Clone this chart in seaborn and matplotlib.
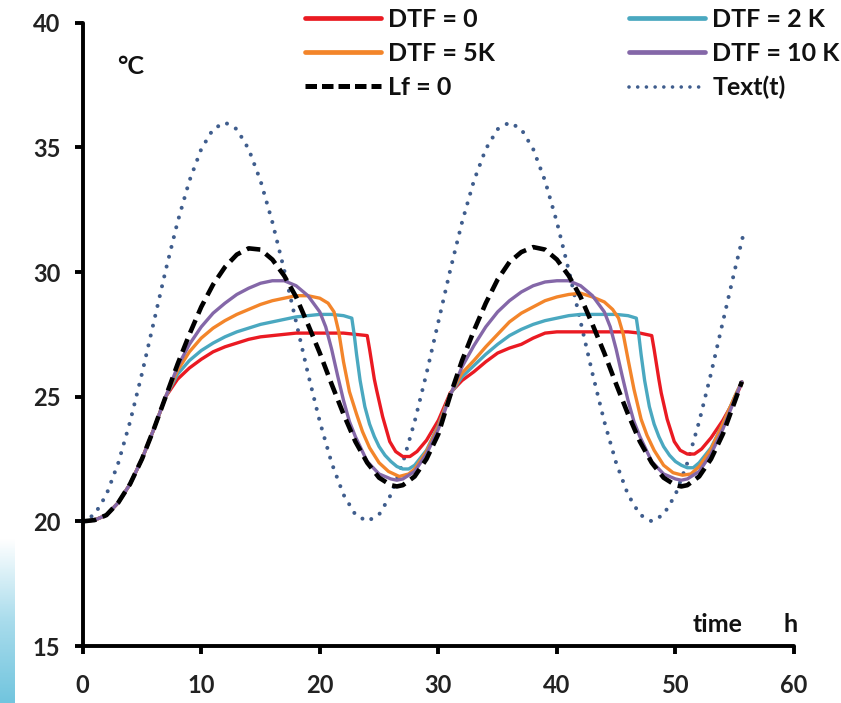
import numpy as np
import pandas as pd
import matplotlib
matplotlib.use("Agg")
import matplotlib.pyplot as plt
import seaborn as sns
from matplotlib.lines import Line2D
from matplotlib.colors import LinearSegmentedColormap

# ---------------- data ----------------
t_text = [0, 1, 2, 3, 4, 5, 6, 7, 8, 9, 10, 11, 12, 13, 14, 15, 16, 17, 18, 19, 20,
          21, 22, 23, 24, 25, 26, 27, 28, 29, 30, 31, 32, 33, 34, 35, 36, 37, 38, 39,
          40, 41, 42, 43, 44, 45, 46, 47, 48, 49, 50, 51, 52, 53, 54, 55, 55.7]
T_text = [20.0, 20.27, 21.07, 22.34, 24.0, 25.93, 28.0, 30.07, 32.0, 33.66, 34.93,
          35.73, 36.0, 35.73, 34.93, 33.66, 32.0, 30.07, 28.0, 25.93, 24.0, 22.34,
          21.07, 20.27, 20.0, 20.27, 21.07, 22.34, 24.0, 25.93, 28.0, 30.07, 32.0,
          33.66, 34.93, 35.73, 36.0, 35.73, 34.93, 33.66, 32.0, 30.07, 28.0, 25.93,
          24.0, 22.34, 21.07, 20.27, 20.0, 20.27, 21.07, 22.34, 24.0, 25.93, 28.0,
          30.07, 31.45]

t_lf0 = [0, 1, 2, 3, 4, 5, 6, 7, 8, 9, 10, 11, 12, 13, 14, 15, 16, 17, 18, 19, 20,
         21, 22, 23, 24, 25, 26, 26.5, 27, 28, 29, 30, 31, 32, 33, 34, 35, 36, 37, 38,
         39, 40, 41, 42, 43, 44, 45, 46, 47, 48, 49, 50, 50.5, 51, 52, 53, 54, 55, 55.6]
T_lf0 = [20.0, 20.05, 20.25, 20.75, 21.5, 22.5, 23.7, 25.0, 26.3, 27.5, 28.6, 29.5,
         30.2, 30.7, 30.95, 30.9, 30.5, 29.85, 29.0, 27.9, 26.75, 25.5, 24.3, 23.2,
         22.35, 21.75, 21.45, 21.4, 21.45, 21.8, 22.5, 23.5, 25.05, 26.45, 27.65,
         28.75, 29.7, 30.4, 30.8, 31.0, 30.9, 30.5, 29.85, 29.0, 27.9, 26.75, 25.5,
         24.3, 23.2, 22.35, 21.75, 21.45, 21.4, 21.45, 21.8, 22.5, 23.5, 24.8, 25.6]

t_dtf0 = [0, 1, 2, 3, 4, 5, 6, 7, 8, 9, 10, 11, 12, 13, 14, 15, 16, 17, 18, 19, 20,
          21, 22, 23, 24.0, 24.2, 24.4, 24.6, 24.8, 25.3, 25.9, 26.4, 27.0, 27.6, 28.2,
          29, 30, 31, 32, 33, 34, 35, 36, 37, 38, 39, 40, 41, 42, 43, 44, 45, 46, 47,
          48.0, 48.2, 48.4, 48.6, 48.8, 49.3, 49.9, 50.4, 51.0, 51.6, 52.2, 53, 54, 55,
          55.6]
T_dtf0 = [20.0, 20.05, 20.25, 20.75, 21.5, 22.5, 23.7, 25.0, 25.7, 26.15, 26.5, 26.8,
          27.0, 27.15, 27.3, 27.4, 27.45, 27.5, 27.55, 27.55, 27.55, 27.55, 27.55,
          27.5, 27.45, 26.9, 26.3, 25.7, 25.25, 24.2, 23.2, 22.8, 22.6, 22.6, 22.8,
          23.25, 24.05, 25.15, 25.65, 26.0, 26.4, 26.75, 26.95, 27.1, 27.35, 27.55,
          27.6, 27.6, 27.6, 27.6, 27.6, 27.6, 27.6, 27.55, 27.45, 26.9, 26.3, 25.7,
          25.15, 24.1, 23.2, 22.85, 22.7, 22.7, 22.9, 23.35, 24.05, 24.9, 25.55]

t_dtf2 = [0, 1, 2, 3, 4, 5, 6, 7, 8, 9, 10, 11, 12, 13, 14, 15, 16, 17, 18, 19, 20,
          21, 22, 22.7, 22.9, 23.1, 23.4, 23.8, 24.2, 24.6, 25.0, 25.5, 26.0, 26.5,
          27.0, 27.5, 28, 29, 30, 31, 32, 33, 34, 35, 36, 37, 38, 39, 40, 41, 42, 43,
          44, 45, 46, 46.7, 46.9, 47.1, 47.4, 47.8, 48.2, 48.6, 49.0, 49.5, 50.0, 50.5,
          51.0, 51.5, 52, 53, 54, 55, 55.6]
T_dtf2 = [20.0, 20.05, 20.25, 20.75, 21.5, 22.5, 23.7, 25.0, 25.9, 26.45, 26.85,
          27.15, 27.4, 27.6, 27.75, 27.9, 28.0, 28.1, 28.2, 28.25, 28.3, 28.3, 28.25,
          28.15, 27.5, 26.7, 25.65, 24.6, 23.9, 23.4, 23.0, 22.65, 22.4, 22.2, 22.1,
          22.1, 22.25, 22.85, 23.85, 25.1, 25.8, 26.25, 26.7, 27.1, 27.45, 27.7, 27.9,
          28.05, 28.15, 28.25, 28.3, 28.3, 28.3, 28.3, 28.25, 28.15, 27.5, 26.7,
          25.65, 24.6, 23.9, 23.4, 23.0, 22.65, 22.4, 22.25, 22.15, 22.15, 22.35,
          22.95, 23.9, 25.0, 25.6]

t_dtf5 = [0, 1, 2, 3, 4, 5, 6, 7, 8, 9, 10, 11, 12, 13, 14, 15, 16, 17, 18, 19, 20,
          20.7, 21.2, 21.6, 22.0, 22.5, 23.1, 23.6, 24.2, 25.0, 25.8, 26.7, 27.5, 28,
          29, 30, 31, 32, 33, 34, 35, 36, 37, 38, 39, 40, 41, 42, 43, 44, 44.7, 45.2,
          45.6, 46.0, 46.5, 47.1, 47.6, 48.2, 49.0, 49.8, 50.6, 51.3, 52, 53, 54, 55,
          55.6]
T_dtf5 = [20.0, 20.05, 20.25, 20.75, 21.5, 22.5, 23.7, 25.0, 26.05, 26.8, 27.35,
          27.75, 28.05, 28.3, 28.5, 28.7, 28.85, 28.95, 29.05, 29.05, 28.95, 28.75,
          28.4, 27.6, 26.4, 25.2, 24.3, 23.6, 22.95, 22.35, 22.0, 21.8, 21.9, 22.1,
          22.8, 23.8, 25.1, 25.95, 26.45, 27.0, 27.5, 28.0, 28.35, 28.6, 28.85, 29.0,
          29.1, 29.15, 29.0, 28.8, 28.5, 28.15, 27.5, 26.5, 25.3, 24.1, 23.45, 22.85,
          22.25, 21.95, 21.85, 21.9, 22.2, 22.9, 23.9, 25.0, 25.6]

t_dtf10 = [0, 1, 2, 3, 4, 5, 6, 7, 8, 9, 10, 11, 12, 13, 14, 15, 16, 17, 18, 19, 20,
           20.5, 21, 21.5, 22, 22.5, 23, 24, 25, 26, 26.5, 27, 28, 29, 30, 31, 32, 33,
           34, 35, 36, 37, 38, 39, 40, 41, 42, 43, 44, 44.5, 45, 45.5, 46, 46.5, 47,
           48, 49, 50, 50.5, 51, 52, 53, 54, 55, 55.6]
T_dtf10 = [20.0, 20.05, 20.25, 20.75, 21.5, 22.5, 23.7, 25.0, 26.2, 27.1, 27.8,
           28.35, 28.75, 29.1, 29.35, 29.55, 29.65, 29.65, 29.45, 29.05, 28.4, 27.8,
           26.9, 25.85, 24.85, 24.0, 23.4, 22.4, 21.9, 21.7, 21.65, 21.7, 22.0, 22.7,
           23.7, 25.05, 26.2, 27.05, 27.8, 28.4, 28.85, 29.2, 29.45, 29.6, 29.65,
           29.65, 29.45, 29.05, 28.4, 27.8, 26.9, 25.85, 24.85, 24.0, 23.4, 22.4,
           21.9, 21.7, 21.65, 21.7, 22.0, 22.7, 23.7, 24.9, 25.6]

labels = ["DTF = 0", "DTF = 2 K", "DTF = 5K", "DTF = 10 K", "Lf = 0", "Text(t)"]
x_ticks = [0, 10, 20, 30, 40, 50, 60]
y_ticks = [15, 20, 25, 30, 35, 40]

# ---------------- style ----------------
sns.set_style("ticks")
plt.rcParams["font.family"] = ["Lato", "DejaVu Sans"]
plt.rcParams["font.weight"] = "bold"

C_RED = "#ea1a22"
C_TEAL = "#4aa8c0"
C_ORANGE = "#f3852a"
C_PURPLE = "#8467a8"
C_DOT = "#3f5d8d"
FS_TICK = 17
FS_TXT = 18

fig = plt.figure(figsize=(8.41, 7.03), dpi=100)

# light blue decorative strip at the bottom-left edge (background artwork)
bg = fig.add_axes([0, 0, 15 / 841, 165 / 703])
grad = np.linspace(0, 1, 100).reshape(-1, 1)
cmap = LinearSegmentedColormap.from_list("bl", ["#72c5de", "#a9dcec", "#ffffff"])
bg.imshow(grad, aspect="auto", cmap=cmap, origin="lower", extent=[0, 1, 0, 1])
bg.set_axis_off()

ax = fig.add_axes([82.7 / 841, 1 - 646 / 703, (794 - 82.7) / 841, (646 - 22.7) / 703])
ax.patch.set_alpha(0)

lw = 2.4
sns.lineplot(x=t_text, y=T_text, ax=ax, color=C_DOT, lw=2.9, sort=False,
             linestyle=(0, (0.01, 2.5)), dash_capstyle="round", clip_on=False)
sns.lineplot(x=t_dtf0, y=T_dtf0, ax=ax, color=C_RED, lw=lw, sort=False)
sns.lineplot(x=t_dtf2, y=T_dtf2, ax=ax, color=C_TEAL, lw=lw, sort=False)
sns.lineplot(x=t_dtf5, y=T_dtf5, ax=ax, color=C_ORANGE, lw=lw, sort=False)
sns.lineplot(x=t_dtf10, y=T_dtf10, ax=ax, color=C_PURPLE, lw=lw, sort=False)
sns.lineplot(x=t_lf0, y=T_lf0, ax=ax, color="black", lw=3.3, sort=False,
             linestyle=(0, (3.0, 1.5)), clip_on=False)

ax.set_xlim(0, 60)
ax.set_ylim(15, 40)
ax.set_xticks(x_ticks)
ax.set_yticks(y_ticks)
ax.set_xlabel("")
ax.set_ylabel("")
for s in ["top", "right"]:
    ax.spines[s].set_visible(False)
for s in ["left", "bottom"]:
    ax.spines[s].set_linewidth(2.8)
    ax.spines[s].set_color("black")
    ax.spines[s].set_capstyle("round")
ax.tick_params(axis="both", direction="out", length=6, width=2.8, color="black",
               labelsize=FS_TICK, labelcolor="#222222")
ax.tick_params(axis="y", pad=10)
ax.tick_params(axis="x", pad=14)

ax.text(131 / 841, 1 - 67 / 703, "°C", transform=fig.transFigure, fontsize=FS_TXT,
        ha="center", va="center", color="#111111")
ax.text(718 / 841, 1 - 624 / 703, "time", transform=fig.transFigure, fontsize=FS_TXT,
        ha="center", va="center", color="#111111")
ax.text(791 / 841, 1 - 624 / 703, "h", transform=fig.transFigure, fontsize=FS_TXT,
        ha="center", va="center", color="#111111")

h_red = Line2D([], [], color=C_RED, lw=3.4)
h_orange = Line2D([], [], color=C_ORANGE, lw=3.4)
h_black = Line2D([], [], color="black", lw=3.6, linestyle=(0, (2.3, 1.0)))
h_teal = Line2D([], [], color=C_TEAL, lw=3.4)
h_purple = Line2D([], [], color=C_PURPLE, lw=3.4)
h_dot = Line2D([], [], color=C_DOT, lw=2.6, linestyle=(0, (0.01, 2.4)), dash_capstyle="round")

leg_kw = dict(loc="upper left", bbox_transform=fig.transFigure, frameon=False,
              fontsize=FS_TXT, handlelength=3.05, handletextpad=0.28, labelspacing=0.44,
              borderpad=0, borderaxespad=0)
leg1 = ax.legend([h_red, h_orange, h_black], [labels[0], labels[2], labels[4]],
                 bbox_to_anchor=(305 / 841, 1 - 8 / 703), **leg_kw)
ax.add_artist(leg1)
leg2 = ax.legend([h_teal, h_purple, h_dot], [labels[1], labels[3], labels[5]],
                 bbox_to_anchor=(629 / 841, 1 - 8 / 703), **leg_kw)
for lg in (leg1, leg2):
    for txt in lg.get_texts():
        txt.set_color("#111111")

fig.savefig("out.png", dpi=100)
